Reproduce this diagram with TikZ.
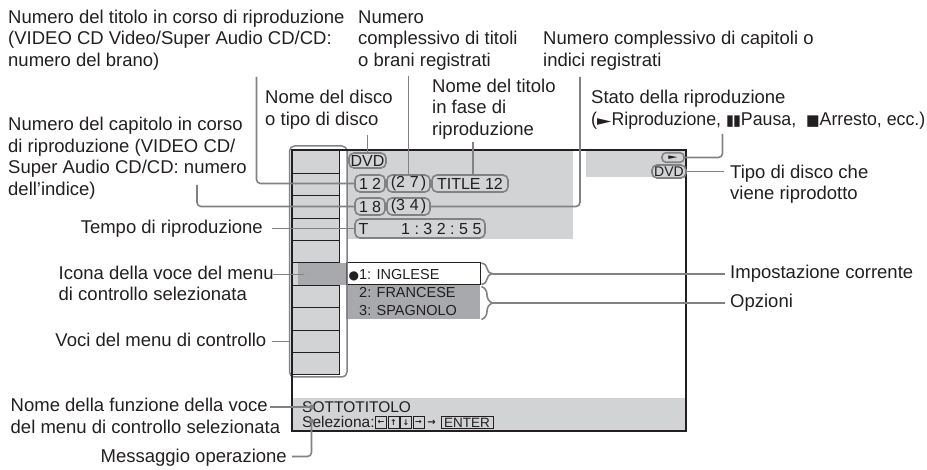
\documentclass[tikz,border=0pt]{standalone}
\usepackage{fontspec}
\setmainfont{Liberation Sans}
\newfontfamily\symfont{DejaVu Sans}
\usetikzlibrary{decorations.pathreplacing,calc}
\definecolor{scrlight}{HTML}{D1D3D4}
\definecolor{scrdark}{HTML}{A7A9AC}
\definecolor{conngray}{HTML}{808285}
\definecolor{ink}{HTML}{231F20}
\begin{document}
\begin{tikzpicture}[x=1pt,y=-1pt,
  lbl/.style={font=\fontsize{18.5}{21.5}\selectfont, inner sep=0pt, align=left, anchor=base west, text=ink},
  lblr/.style={lbl, align=right, anchor=base east},
  conn/.style={draw=conngray, line width=1.6pt, rounded corners=4pt},
  obox/.style={draw=conngray, line width=1.6pt, rounded corners=5pt, inner sep=0pt, minimum height=17pt, font=\fontsize{16}{16}\selectfont, text=ink},
  scrtxt/.style={inner sep=0pt, anchor=base west, text=ink, font=\fontsize{15.5}{15.5}\selectfont},
  opttxt/.style={inner sep=0pt, anchor=base west, text=ink, font=\fontsize{14.5}{14.5}\selectfont},
  dot/.style={circle, fill=conngray, inner sep=0pt, minimum size=5pt},
  keybox/.style={draw=ink, line width=0.7pt, inner sep=0pt, minimum width=11pt, minimum height=12pt, font=\symfont\bfseries\fontsize{8}{8}\selectfont, text=ink},
  brace/.style={draw=conngray, line width=1.6pt, decorate, decoration={brace, amplitude=11pt}},
  rowline/.style={draw=ink, line width=1pt},
  ]
\useasboundingbox (0,0) rectangle (927,470);

% ---------- screen ----------
\node[fill=white, minimum width=394pt, minimum height=281pt, inner sep=0pt] (screenbg) at (489,290.5) {};
\fill[scrlight] (347,151) rectangle (573,239);
\fill[scrlight] (586,151) rectangle (685,177);
\fill[scrlight] (293,398) rectangle (685,430);

% control menu column
\fill[scrlight] (293,151) rectangle (339,375);
\fill[scrdark] (298,263) rectangle (346,285.4);
\foreach \yy in {151,173.4,195.8,218.2,240.6,263,285.4,307.8,330.2,352.6,375}
  \draw[rowline] (293,\yy) -- (339,\yy);
\draw[rowline] (339,151) -- (339,263);
\draw[rowline] (339,285.4) -- (339,375);

% options
\node[draw=ink, line width=1pt, fill=white, minimum width=134pt, minimum height=21.4pt, inner sep=0pt] (optcur) at (413,273.7) {};
\node[fill=scrdark, minimum width=134pt, minimum height=34pt, inner sep=0pt] (optlist) at (413,302.4) {};
\node[opttxt] (opt1) at (348.5,279.3) {{\symfont\fontsize{12}{12}\selectfont ●}1: INGLESE};
\node[opttxt] (opt2) at (359,297.8) {2: FRANCESE};
\node[opttxt] (opt3) at (359,315.5) {3: SPAGNOLO};

% column bracket
\node[draw=conngray, line width=1.5pt, rounded corners=5pt, minimum width=57.5pt, minimum height=231pt, inner sep=0pt] (colbr) at (318.25,261.5) {};

% screen frame
\node[draw=ink, line width=2.5pt, minimum width=394pt, minimum height=281pt, inner sep=0pt] (screen) at (489,290.5) {};

% info boxes
\node[obox, minimum width=37pt, minimum height=15pt] (dvdA) at (367.5,160.5) {DVD};
\node[obox, minimum width=30pt] (b12) at (370,183.5) {1\hspace{4pt}2};
\node[obox, minimum width=43pt] (b27) at (408.5,183.5) {(2\hspace{5pt}7\hspace{2pt})};
\node[obox, minimum width=76pt] (btitle) at (470,183.5) {TITLE 12};
\node[obox, minimum width=30pt] (b18) at (370,206.5) {1\hspace{4pt}8};
\node[obox, minimum width=43pt] (b34) at (408.5,206.5) {(3\hspace{5pt}4\hspace{2pt})};
\node[obox, minimum width=130pt, minimum height=19pt] (btime) at (420,228.5)
  {\makebox[123pt]{T\hfill 1\hspace{4.5pt}:\hspace{4.5pt}3\hspace{4.5pt}2\hspace{4.5pt}:\hspace{4.5pt}5\hspace{4.5pt}5}};
\node[obox, minimum width=22pt, minimum height=9.5pt, rounded corners=4pt, font=\symfont\fontsize{8}{8}\selectfont] (play) at (673,157.5) {\scalebox{1.5}[0.9]{►}};
\node[obox, minimum width=34pt, minimum height=13pt, font=\fontsize{14}{14}\selectfont] (dvdB) at (669,171.5) {DVD};

% selected icon dot
\node[dot, fill=conngray!70!white] (seldot) at (307,274.5) {};

% bottom bar
\node[scrtxt] (fname) at (302,412.7) {SOTTOTITOLO};
\node[scrtxt] (msg) at (302,427.7) {Seleziona:};
\node[keybox] (k1) at (381,422.5) {←};
\node[keybox] (k2) at (393.5,422.5) {↑};
\node[keybox] (k3) at (406,422.5) {↓};
\node[keybox] (k4) at (418.5,422.5) {→};
\node[inner sep=0pt, font=\symfont\bfseries\fontsize{10}{10}\selectfont, text=ink] (karr) at (431.5,422.5) {→};
\node[draw=ink, line width=0.7pt, inner xsep=3pt, inner ysep=0pt, minimum height=12.5pt, font=\fontsize{13.5}{13.5}\selectfont, text=ink] (kenter) at (467,422.5) {ENTER};
\node[dot] (fdot) at (311.5,407) {};
\node[dot] (gdot) at (311.5,421) {};

% option braces
\draw[brace] (481.5,263) -- (481.5,284.5);
\draw[brace] (481.5,286.5) -- (481.5,319.5);
\coordinate (br1) at (492.5,273.75);
\coordinate (br2) at (492.5,303);

% ---------- labels (anchor = baseline of last line) ----------
\node[lbl] (labA) at (8,66.5) {Numero del titolo in corso di riproduzione\\(VIDEO CD Video/Super Audio CD/CD:\\numero del brano)};
\node[lbl] (labB) at (8,195.5) {Numero del capitolo in corso\\di riproduzione (VIDEO CD/\\Super Audio CD/CD: numero\\dell’indice)};
\node[lblr] (labC) at (263,233.3) {Tempo di riproduzione};
\node[lbl] (labD) at (58.5,301) {Icona della voce del menu\\di controllo selezionata};
\node[lblr] (labE) at (266.5,346.5) {Voci del menu di controllo};
\node[lbl] (labF) at (10.5,433.5) {Nome della funzione della voce\\del menu di controllo selezionata};
\node[lblr] (labG) at (287,462) {Messaggio operazione};
\node[lbl] (labH) at (265,125.5) {Nome del disco\\o tipo di disco};
\node[lbl] (labI) at (358,66.5) {Numero\\complessivo di titoli\\o brani registrati};
\node[lbl] (labJ) at (432,135.5) {Nome del titolo\\in fase di\\riproduzione};
\node[lbl] (labK) at (543,66.5) {Numero complessivo di capitoli o\\indici registrati};
\node[lbl] (labL) at (591,125.5) {Stato della riproduzione\\\scalebox{0.96}[1]{({\symfont\fontsize{15}{15}\selectfont\scalebox{1.3}[0.9]{►}}Riproduzione, {\symfont\fontsize{15}{15}\selectfont ▮\kern-1pt▮}Pausa,\ \ {\symfont\fontsize{15}{15}\selectfont ■}Arresto, ecc.)}};
\node[lbl] (labM) at (730,200) {Tipo di disco che\\viene riprodotto};
\node[lbl] (labN) at (730,279) {Impostazione corrente};
\node[lbl] (labO) at (730,307.5) {Opzioni};

% ---------- connectors ----------
\coordinate (a0) at (256.5,77);
\draw[conn] (a0) |- (b12.west);
\coordinate (bb0) at (197,185);
\draw[conn] (bb0) |- (b18.west);
\coordinate (c0) at (272,228.5);
\draw[conn] (c0) -- (btime.west);
\coordinate (d0) at (273,274.5);
\draw[conn] (d0) -- (seldot);
\coordinate (e0) at (272,341.5);
\draw[conn] (e0) -- (e0 -| colbr.west);
\coordinate (f0) at (270,407);
\draw[conn] (f0) -- (fdot);
\coordinate (g0) at (292,456.5);
\draw[conn] (g0) -| (gdot);
\coordinate (h0) at (367.5,135);
\draw[conn] (h0) -- (dvdA.north);
\coordinate (i0) at (408.5,76);
\draw[conn] (i0) -- (b27.north);
\coordinate (j0) at (473,142);
\draw[conn] (j0) -- (j0 |- btitle.north);
\coordinate (k0) at (580,77);
\draw[conn] (k0) |- (b34.east);
\coordinate (l0) at (722.5,134);
\draw[conn] (l0) |- (play.east);
\coordinate (m0) at (724,172);
\draw[conn] (dvdB.east) -- (dvdB.east -| m0);
\coordinate (n0) at (725,273.75);
\draw[conn] (br1) -- (n0);
\coordinate (o0) at (725,303);
\draw[conn] (br2) -- (o0);
\end{tikzpicture}
\end{document}
